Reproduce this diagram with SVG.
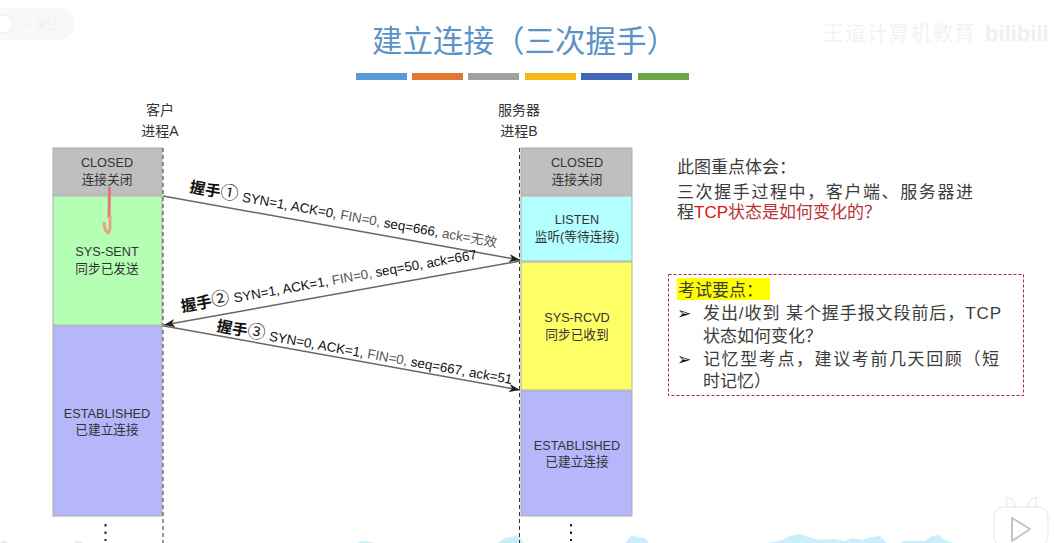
<svg xmlns="http://www.w3.org/2000/svg" width="1054" height="543" viewBox="0 0 1054 543">
<style>
text{font-family:"Liberation Sans","Noto Sans CJK SC",sans-serif;fill:#222}
.s{font-size:12.700px;text-anchor:middle;fill:#333}
.h{font-size:14px;text-anchor:middle;fill:#333}
.m{font-size:17px;fill:#3c3c3c}
.lb{font-size:15.500px;font-weight:700;fill:#111}
.n{font-size:18px;font-weight:400;fill:#222}
.lt{font-size:13.400px;font-weight:400;fill:#111}
.g{fill:#555}
.b{stroke:#aaa;stroke-width:1}
.c{fill:none;stroke:#666;stroke-width:1.500;marker-end:url(#ah)}
.d{fill:none;stroke:#333;stroke-width:1;stroke-dasharray:4 3}
.dots{fill:none;stroke:#222;stroke-width:2;stroke-dasharray:2.500 5}
.w{fill:#cbeefb}
</style>
<defs>
<marker id="ah" markerUnits="userSpaceOnUse" markerWidth="12" markerHeight="8" refX="11" refY="4" orient="auto"><path d="M0 0L11 4L0 8L3 4Z" fill="#222"/></marker>
</defs>
<rect width="1054" height="543" fill="#fff"/>
<g id="watermark">
<rect x="-20" y="8" width="94" height="32" rx="16" fill="#f8f8f8"/>
<circle cx="4" cy="24" r="9" fill="#fff" stroke="#eee"/>
<text x="25" y="29" font-size="12" style="fill:#f0f0f0">+ 关注</text>
<text x="823" y="40" font-size="21" style="fill:#f3f3f3" textLength="152">王道计算机教育</text>
<text x="985" y="41" font-size="22" font-weight="700" style="fill:#efefef">bilibili</text>
<path class="w" d="M0 543L5 541L8 543ZM74 543L78 541L84 543ZM356 543L365 541L376 543ZM497 543L505 538L512 537L517 535L520 538L524 543ZM625 543L630 537L634 536L640 538L645 538L649 543ZM766 543L780 541L790 536L800 534L808 537L820 540L835 539L845 541L852 538L862 540L872 537L880 536L887 543ZM900 543L905 541L925 541L932 536L938 535L945 540L954 543Z"/>
<path d="M1008 507L1006 497L1012 499L1016 507ZM1035 507L1037 497L1031 499L1027 507Z" fill="#fff" stroke="#e8e8e8"/>
<rect x="994" y="507" width="54" height="40" rx="10" fill="#fff" stroke="#e6e6e6"/>
<path d="M1012 518L1030 529L1012 541Z" fill="#fff" stroke="#c4c4c4" stroke-width="2" stroke-linejoin="round"/>
</g>
<g id="title">
<text x="372" y="52" font-size="30.500" style="fill:#5b93c9">建立连接<tspan style="font-family:'Noto Sans CJK TC',sans-serif">（</tspan>三次握手<tspan style="font-family:'Noto Sans CJK TC',sans-serif">）</tspan></text>
<rect x="356" y="73" width="51" height="7" fill="#5b9bd5"/>
<rect x="412" y="73" width="51" height="7" fill="#e07732"/>
<rect x="468" y="73" width="51" height="7" fill="#a0a0a0"/>
<rect x="525" y="73" width="51" height="7" fill="#f7b916"/>
<rect x="581" y="73" width="51" height="7" fill="#4068b5"/>
<rect x="638" y="73" width="51" height="7" fill="#6aa548"/>
</g>
<g id="client-head"><text class="h" x="160" y="115">客户</text><text class="h" x="160" y="136">进程A</text></g>
<g id="server-head"><text class="h" x="519" y="115">服务器</text><text class="h" x="519" y="136">进程B</text></g>
<g id="a-closed"><rect class="b" x="53" y="148" width="109" height="47" fill="#bfbfbf"/><text class="s" x="107" y="167">CLOSED</text><text class="s" x="107" y="184">连接关闭</text></g>
<g id="a-sent"><rect class="b" x="53" y="196" width="109" height="129" fill="#b5ffb5"/><text class="s" x="107" y="256">SYS-SENT</text><text class="s" x="107" y="273">同步已发送</text>
<path d="M109.500 187L109 218" fill="none" stroke="#e8757a" stroke-width="3"/>
<path d="M110 216L110 226Q110 232 108 233Q104 230 104 222" fill="none" stroke="#eba27c" stroke-width="3"/></g>
<g id="a-est"><rect class="b" x="53" y="326" width="109" height="190" fill="#b6b6fb"/><text class="s" x="107" y="418">ESTABLISHED</text><text class="s" x="107" y="434">已建立连接</text></g>
<g id="b-closed"><rect class="b" x="521" y="148" width="111" height="47" fill="#bfbfbf"/><text class="s" x="577" y="167">CLOSED</text><text class="s" x="577" y="184">连接关闭</text></g>
<g id="b-listen"><rect class="b" x="521" y="196" width="111" height="65" fill="#b4ffff"/><text class="s" x="577" y="224">LISTEN</text><text class="s" x="577" y="241">监听(等待连接)</text></g>
<g id="b-rcvd"><rect class="b" x="521" y="262" width="111" height="128" fill="#ffff66"/><text class="s" x="577" y="322">SYS-RCVD</text><text class="s" x="577" y="339">同步已收到</text></g>
<g id="b-est"><rect class="b" x="521" y="391" width="111" height="125" fill="#b6b6fb"/><text class="s" x="577" y="450">ESTABLISHED</text><text class="s" x="577" y="466">已建立连接</text></g>
<g id="connectors">
<line class="d" x1="163" y1="148" x2="163" y2="543"/>
<line class="d" x1="519.500" y1="148" x2="519.500" y2="543"/>
<line class="dots" x1="105.500" y1="524" x2="105.500" y2="541"/>
<line class="dots" x1="571" y1="524" x2="571" y2="541"/>
<line class="c" x1="163" y1="196" x2="520" y2="260"/>
<line class="c" x1="520" y1="261" x2="164" y2="325"/>
<line class="c" x1="164" y1="326" x2="520" y2="390"/>
</g>
<g id="label1" transform="translate(189 192) rotate(10.2)"><text class="lb" x="0" y="0">握手<tspan class="n">①</tspan> <tspan class="lt">SYN=1, ACK=0, <tspan class="g">FIN=0,</tspan> seq=666, <tspan class="g">ack=无效</tspan></tspan></text></g>
<g id="label2" transform="translate(182 312) rotate(-10.2)"><text class="lb" x="0" y="0">握手<tspan class="n">②</tspan> <tspan class="lt">SYN=1, ACK=1, <tspan class="g">FIN=0,</tspan> seq=50, ack=667</tspan></text></g>
<g id="label3" transform="translate(216 331) rotate(10.2)"><text class="lb" x="0" y="0">握手<tspan class="n">③</tspan> <tspan class="lt">SYN=0, ACK=1, <tspan class="g">FIN=0,</tspan> seq=667, ack=51</tspan></text></g>
<g id="note">
<text class="m" x="677" y="173">此图重点体会：</text>
<text class="m" x="677" y="198" textLength="296">三次握手过程中，客户端、服务器进</text>
<text class="m" x="677" y="218">程<tspan style="fill:#e01010">TCP</tspan><tspan style="fill:#b8323c">状态是如何变化的？</tspan></text>
</g>
<g id="exam">
<rect x="668.500" y="274.500" width="355" height="121" fill="none" stroke="#a8243c" stroke-width="1" stroke-dasharray="3 2"/>
<rect x="677" y="278" width="93" height="22" fill="#ffff00"/>
<text class="m" x="678" y="296">考试要点：</text>
<text class="m" x="677" y="319" style="fill:#111">➢</text>
<text class="m" x="703" y="319" textLength="298">发出/收到 某个握手报文段前后，TCP</text>
<text class="m" x="703" y="342">状态如何变化？</text>
<text class="m" x="677" y="365" style="fill:#111">➢</text>
<text class="m" x="703" y="365" textLength="296">记忆型考点，建议考前几天回顾（短</text>
<text class="m" x="703" y="387">时记忆）</text>
</g>
</svg>
